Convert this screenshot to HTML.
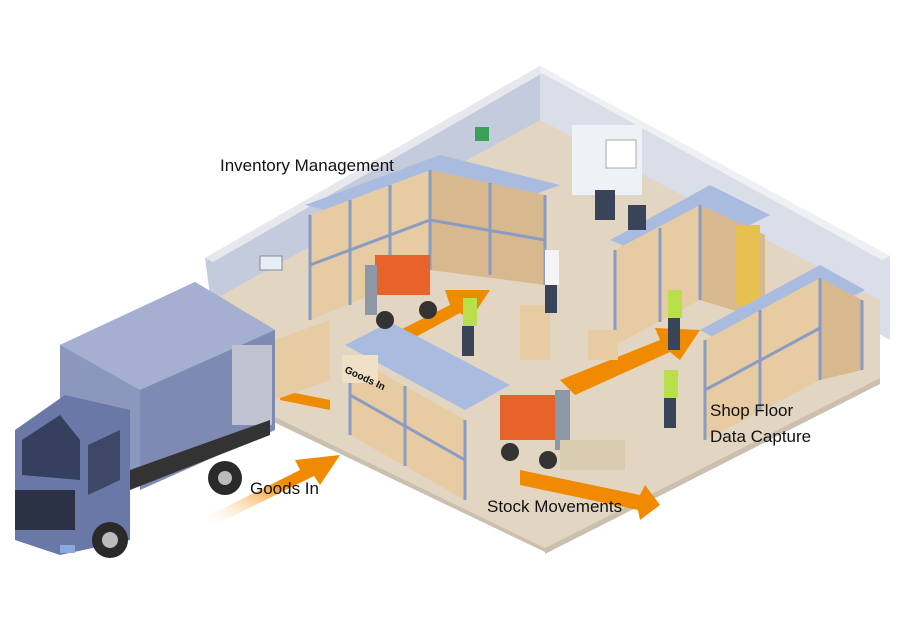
<!DOCTYPE html>
<html><head><meta charset="utf-8"><style>
html,body{margin:0;padding:0;background:#fff;}
svg{display:block;}
text{font-family:"Liberation Sans",sans-serif;fill:#111;}
</style></head><body>
<svg width="900" height="636" viewBox="0 0 900 636" xmlns="http://www.w3.org/2000/svg">
<defs>
<linearGradient id="ar" x1="0" y1="1" x2="1" y2="0"><stop offset="0" stop-color="#fff" stop-opacity="0"/><stop offset="0.6" stop-color="#f08a00"/></linearGradient>
</defs>
<!-- walls -->
<polygon points="205,258 540,66 540,150 215,332" fill="#c3cbdc"/>
<polygon points="540,66 890,256 890,340 540,150" fill="#d9dee8"/>
<polygon points="205,258 540,66 548,70 213,262" fill="#e6e8ee"/>
<polygon points="540,66 890,256 882,260 540,72" fill="#eef0f4"/>
<!-- floor -->
<polygon points="213,300 540,120 880,300 880,378 545,548 240,400" fill="#e2d5c2"/>
<polygon points="240,400 545,548 545,552 236,404" fill="#cbbfae"/>
<polygon points="545,548 880,378 880,384 545,554" fill="#cbbfae"/>
<!-- back office -->
<rect x="572" y="125" width="70" height="70" fill="#eef1f6"/>
<rect x="606" y="140" width="30" height="28" fill="#fff" stroke="#aaa"/>
<rect x="475" y="127" width="14" height="14" fill="#3aa05a"/>
<rect x="260" y="256" width="22" height="14" fill="#e8eef6" stroke="#889"/>
<!-- orange arrows -->
<polygon points="200,520 300,470 295,460 340,455 320,485 314,476 215,525" fill="url(#ar)"/>
<polygon points="400,330 450,305 445,290 490,290 470,320 460,313 410,340" fill="#f08a00"/>
<polygon points="560,380 660,340 655,328 700,330 680,360 670,352 575,395" fill="#f08a00"/>
<polygon points="520,470 640,495 645,485 660,505 640,520 638,510 520,485" fill="#f08a00"/>
<polygon points="280,390 330,400 330,410 280,400" fill="#f08a00"/>
<!-- shelving back-left -->
<g>
<polygon points="305,205 440,155 560,185 425,235" fill="#a9bce0"/>
<polygon points="310,215 430,170 430,270 310,320" fill="#e6cba3"/>
<polygon points="430,170 545,195 545,285 430,270" fill="#d8b98f"/>
<g stroke="#8a9cc4" stroke-width="3"><line x1="310" y1="215" x2="310" y2="320"/><line x1="350" y1="200" x2="350" y2="305"/><line x1="390" y1="185" x2="390" y2="290"/><line x1="430" y1="170" x2="430" y2="270"/><line x1="490" y1="183" x2="490" y2="275"/><line x1="545" y1="195" x2="545" y2="285"/><line x1="310" y1="265" x2="430" y2="220"/><line x1="430" y1="220" x2="545" y2="240"/></g>
</g>
<!-- shelving right -->
<g>
<polygon points="610,240 710,185 770,215 670,265" fill="#a9bce0"/>
<polygon points="615,250 700,205 700,300 615,345" fill="#e6cba3"/>
<polygon points="700,205 765,235 765,320 700,300" fill="#d8b98f"/>
<rect x="735" y="225" width="25" height="80" fill="#e8c050"/>
<polygon points="700,330 820,265 865,290 745,355" fill="#a9bce0"/>
<polygon points="705,340 820,278 820,380 705,440" fill="#e6cba3"/>
<polygon points="820,278 862,300 862,370 820,380" fill="#d8b98f"/>
<g stroke="#8a9cc4" stroke-width="3"><line x1="615" y1="250" x2="615" y2="345"/><line x1="660" y1="228" x2="660" y2="322"/><line x1="700" y1="205" x2="700" y2="300"/><line x1="705" y1="340" x2="705" y2="440"/><line x1="760" y1="310" x2="760" y2="410"/><line x1="820" y1="278" x2="820" y2="380"/><line x1="862" y1="300" x2="862" y2="370"/><line x1="705" y1="390" x2="820" y2="328"/></g>
</g>
<!-- shelving front -->
<g>
<polygon points="345,345 390,322 510,385 465,410" fill="#a9bce0"/>
<polygon points="350,355 465,420 465,500 350,435" fill="#e6cba3"/>
<g stroke="#8a9cc4" stroke-width="3"><line x1="350" y1="355" x2="350" y2="435"/><line x1="405" y1="386" x2="405" y2="466"/><line x1="465" y1="420" x2="465" y2="500"/><line x1="350" y1="395" x2="465" y2="460"/></g>
<rect x="342" y="355" width="36" height="28" fill="#f0e0c6"/>
<text x="344" y="372" font-size="10" font-weight="bold" transform="rotate(25 344 372)">Goods In</text>
</g>
<!-- boxes near dock -->
<polygon points="275,340 330,320 330,380 275,400" fill="#e6cba3"/>
<!-- forklifts -->
<g>
<rect x="375" y="255" width="55" height="40" fill="#e8632a"/>
<rect x="365" y="265" width="12" height="50" fill="#8e97a8"/>
<circle cx="385" cy="320" r="9" fill="#333"/><circle cx="428" cy="310" r="9" fill="#333"/>
<rect x="500" y="395" width="55" height="45" fill="#e8632a"/>
<rect x="555" y="390" width="15" height="60" fill="#8e97a8"/>
<rect x="560" y="440" width="65" height="30" fill="#d9cbb0"/>
<circle cx="510" cy="452" r="9" fill="#333"/><circle cx="548" cy="460" r="9" fill="#333"/>
<rect x="520" y="305" width="30" height="55" fill="#e6cba3"/>
<rect x="588" y="330" width="30" height="30" fill="#e6cba3"/>
</g>
<!-- people -->
<g fill="#3a4458">
<rect x="463" y="298" width="14" height="28" fill="#b9e04a"/><rect x="462" y="326" width="12" height="30"/>
<rect x="545" y="250" width="14" height="35" fill="#f4f4f4"/><rect x="545" y="285" width="12" height="28"/>
<rect x="668" y="290" width="14" height="28" fill="#b9e04a"/><rect x="668" y="318" width="12" height="32"/>
<rect x="664" y="370" width="14" height="28" fill="#b9e04a"/><rect x="664" y="398" width="12" height="30"/>
<rect x="595" y="190" width="20" height="30"/><rect x="628" y="205" width="18" height="25"/>
</g>
<!-- truck -->
<g>
<polygon points="60,345 195,282 275,330 275,430 130,480 60,440" fill="#8c97bd"/>
<polygon points="60,345 195,282 275,330 140,390" fill="#a5afd2"/>
<polygon points="140,390 275,330 275,430 140,490" fill="#7f8ab2"/>
<rect x="232" y="345" width="40" height="80" fill="#bfc4d0"/>
<polygon points="15,430 65,395 130,410 130,540 60,555 15,540" fill="#6a78a8"/>
<polygon points="22,440 60,415 80,440 80,480 22,475" fill="#34405e"/>
<polygon points="88,445 120,430 120,480 88,495" fill="#3c4866"/>
<rect x="15" y="490" width="60" height="40" fill="#2c3246"/>
<polygon points="130,470 270,420 270,435 130,490" fill="#333"/>
<circle cx="110" cy="540" r="18" fill="#2a2a2a"/><circle cx="110" cy="540" r="8" fill="#bbb"/>
<circle cx="225" cy="478" r="17" fill="#2a2a2a"/><circle cx="225" cy="478" r="7" fill="#bbb"/>
<rect x="60" y="545" width="15" height="8" fill="#8ad"/>
</g>
<!-- labels -->
<text x="220" y="171" font-size="17">Inventory Management</text>
<text x="250" y="494" font-size="17">Goods In</text>
<text x="487" y="512" font-size="17">Stock Movements</text>
<text x="710" y="416" font-size="17">Shop Floor</text>
<text x="710" y="442" font-size="17">Data Capture</text>
</svg>
</body></html>
